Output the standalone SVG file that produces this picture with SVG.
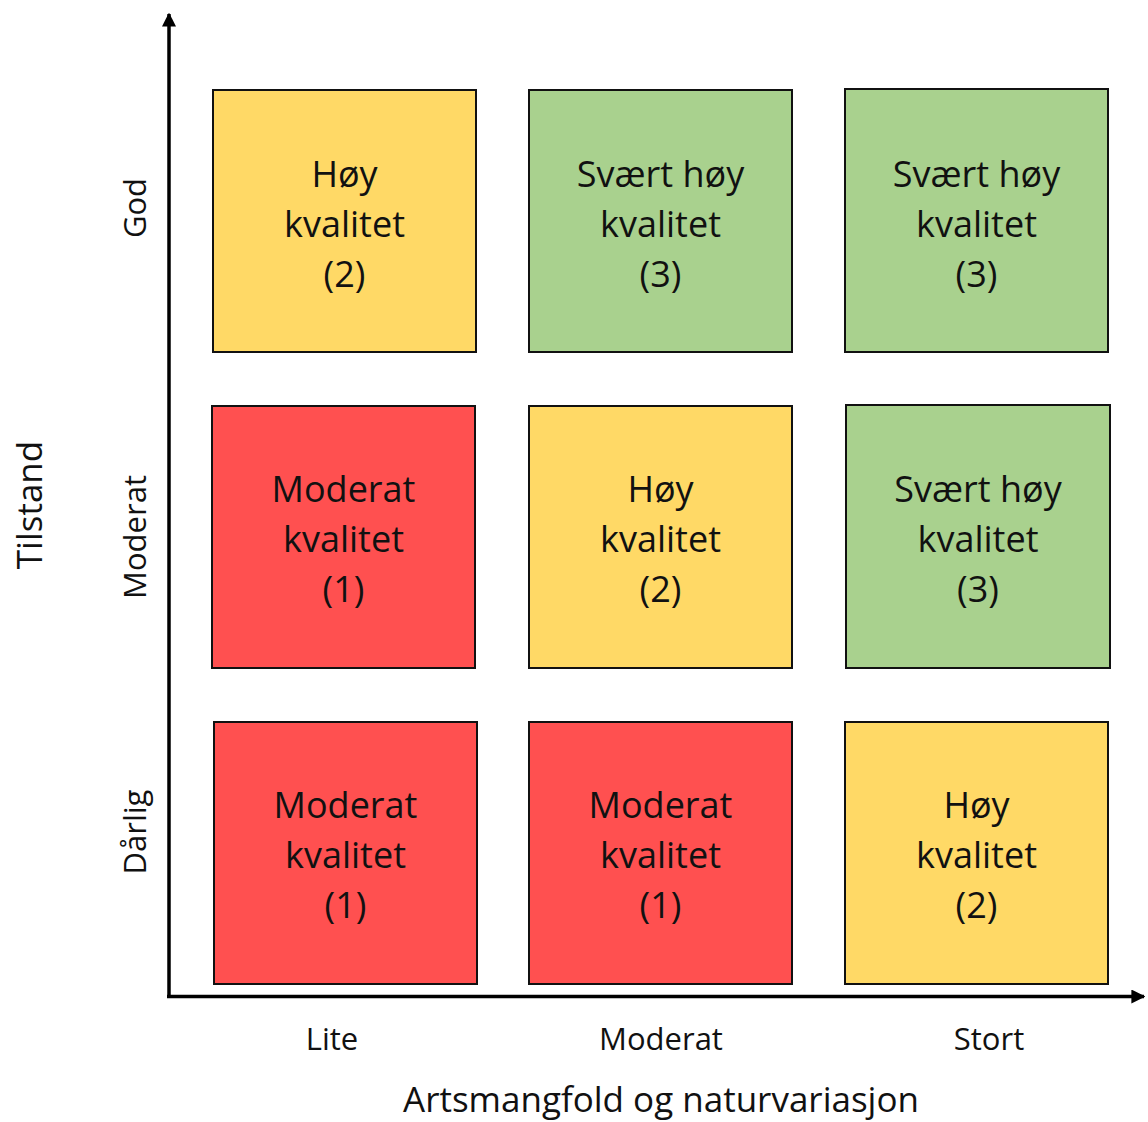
<svg xmlns="http://www.w3.org/2000/svg" width="1148" height="1122" viewBox="0 0 1148 1122">
<style>
.box{stroke:#111;stroke-width:2}
.y{fill:#FFD966}.g{fill:#A9D18E}.r{fill:#FF5050}
.t{font-family:"Open Sans","Noto Sans",sans-serif;font-size:36px;fill:#111;text-anchor:middle}
.lab{font-family:"Open Sans","Noto Sans",sans-serif;font-size:31px;fill:#111;text-anchor:middle}
.ax{font-family:"Open Sans","Noto Sans",sans-serif;font-size:35px;fill:#111;text-anchor:middle}
.axis{stroke:#000;stroke-width:3.5;fill:none}
</style>
<defs>
<marker id="ah" viewBox="0 0 10 10" refX="9" refY="5" markerWidth="4" markerHeight="4" markerUnits="strokeWidth" orient="auto">
<path d="M0,0 L10,5 L0,10 z" fill="#000"/>
</marker>
</defs>
<rect width="1148" height="1122" fill="#fff"/>
<g id="connectors">
<line class="axis" x1="169" y1="998" x2="169" y2="14" marker-end="url(#ah)"/>
<line class="axis" x1="167" y1="996.5" x2="1144" y2="996.5" marker-end="url(#ah)"/>
</g>
<g id="n11"><rect class="box y" x="213" y="90" width="263" height="262"/>
<text class="t" x="344.5" y="187">Høy</text><text class="t" x="344.5" y="237">kvalitet</text><text class="t" x="344.5" y="287">(2)</text></g>
<g id="n12"><rect class="box g" x="529" y="90" width="263" height="262"/>
<text class="t" x="660.5" y="187">Svært høy</text><text class="t" x="660.5" y="237">kvalitet</text><text class="t" x="660.5" y="287">(3)</text></g>
<g id="n13"><rect class="box g" x="845" y="89" width="263" height="263"/>
<text class="t" x="976.5" y="187">Svært høy</text><text class="t" x="976.5" y="237">kvalitet</text><text class="t" x="976.5" y="287">(3)</text></g>
<g id="n21"><rect class="box r" x="212" y="406" width="263" height="262"/>
<text class="t" x="343.5" y="502">Moderat</text><text class="t" x="343.5" y="552">kvalitet</text><text class="t" x="343.5" y="602">(1)</text></g>
<g id="n22"><rect class="box y" x="529" y="406" width="263" height="262"/>
<text class="t" x="660.5" y="502">Høy</text><text class="t" x="660.5" y="552">kvalitet</text><text class="t" x="660.5" y="602">(2)</text></g>
<g id="n23"><rect class="box g" x="846" y="405" width="264" height="263"/>
<text class="t" x="978" y="502">Svært høy</text><text class="t" x="978" y="552">kvalitet</text><text class="t" x="978" y="602">(3)</text></g>
<g id="n31"><rect class="box r" x="214" y="722" width="263" height="262"/>
<text class="t" x="345.5" y="818">Moderat</text><text class="t" x="345.5" y="868">kvalitet</text><text class="t" x="345.5" y="918">(1)</text></g>
<g id="n32"><rect class="box r" x="529" y="722" width="263" height="262"/>
<text class="t" x="660.5" y="818">Moderat</text><text class="t" x="660.5" y="868">kvalitet</text><text class="t" x="660.5" y="918">(1)</text></g>
<g id="n33"><rect class="box y" x="845" y="722" width="263" height="262"/>
<text class="t" x="976.5" y="818">Høy</text><text class="t" x="976.5" y="868">kvalitet</text><text class="t" x="976.5" y="918">(2)</text></g>
<g id="labels">
<text class="lab" transform="translate(146,208) rotate(-90)">God</text>
<text class="lab" transform="translate(146,537) rotate(-90)">Moderat</text>
<text class="lab" transform="translate(146,832) rotate(-90)">Dårlig</text>
<text class="ax" transform="translate(42,505) rotate(-90)">Tilstand</text>
<text class="lab" x="332" y="1050">Lite</text>
<text class="lab" x="661" y="1050">Moderat</text>
<text class="lab" x="989" y="1050">Stort</text>
<text class="ax" x="661" y="1112">Artsmangfold og naturvariasjon</text>
</g>
</svg>
